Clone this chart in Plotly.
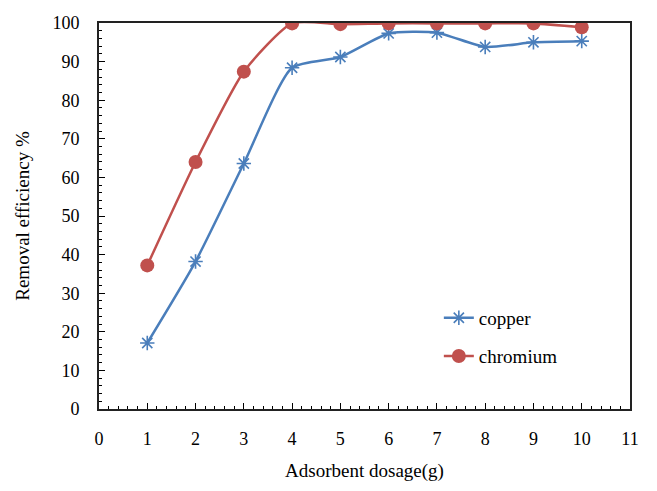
import plotly.graph_objects as go

dosage = [1, 2, 3, 4, 5, 6, 7, 8, 9, 10]
copper = [17.1, 38.2, 63.6, 88.4, 91.2, 97.3, 97.5, 93.8, 95.0, 95.3]
chromium = [37.2, 64.0, 87.4, 99.9, 99.7, 99.9, 99.9, 99.9, 99.9, 98.9]

blue = "#4a7ebb"
red = "#c0504d"
font = "'Liberation Serif', 'Times New Roman', 'DejaVu Serif', serif"

fig = go.Figure()
fig.add_trace(go.Scatter(
    x=dosage, y=copper, name="copper", mode="lines+markers", legend="legend",
    line=dict(color=blue, width=2.5, shape="spline", smoothing=0.6),
    marker=dict(symbol="asterisk-open", size=12, color=blue, line=dict(color=blue, width=1.6)),
))
fig.add_trace(go.Scatter(
    x=dosage, y=chromium, name="chromium", mode="lines+markers", legend="legend2",
    line=dict(color=red, width=2.5, shape="spline", smoothing=0.6),
    marker=dict(symbol="circle", size=14, color=red),
))

leg_common = dict(xanchor="left", yanchor="middle", bgcolor="rgba(0,0,0,0)",
                  font=dict(family=font, size=19, color="black"))
fig.update_layout(
    width=657, height=491,
    margin=dict(l=99, r=27, t=23, b=82),
    paper_bgcolor="white", plot_bgcolor="white",
    font=dict(family=font, size=18, color="black"),
    showlegend=True,
    legend=dict(x=0.64, y=0.236, **leg_common),
    legend2=dict(x=0.64, y=0.137, **leg_common),
)
fig.update_xaxes(
    range=[0, 11], dtick=1, tick0=0,
    showline=True, linecolor="#222", linewidth=2, mirror=True,
    ticks="inside", ticklen=6, tickcolor="black",
    minor=dict(dtick=0.2, ticks="inside", ticklen=3, tickcolor="black"),
    showgrid=False, zeroline=False,
    ticklabelstandoff=12,
    title=dict(text="Adsorbent dosage(g)", font=dict(family=font, size=19), standoff=16),
    tickfont=dict(family=font, size=18),
)
fig.update_yaxes(
    range=[0, 100], dtick=10, tick0=0,
    showline=True, linecolor="#222", linewidth=2, mirror=True,
    ticks="inside", ticklen=6, tickcolor="black",
    minor=dict(dtick=2, ticks="inside", ticklen=3, tickcolor="black"),
    showgrid=False, zeroline=False,
    ticklabelstandoff=14,
    title=dict(text="Removal efficiency %", font=dict(family=font, size=19), standoff=18),
    tickfont=dict(family=font, size=18),
)

fig.write_html("out.html")
